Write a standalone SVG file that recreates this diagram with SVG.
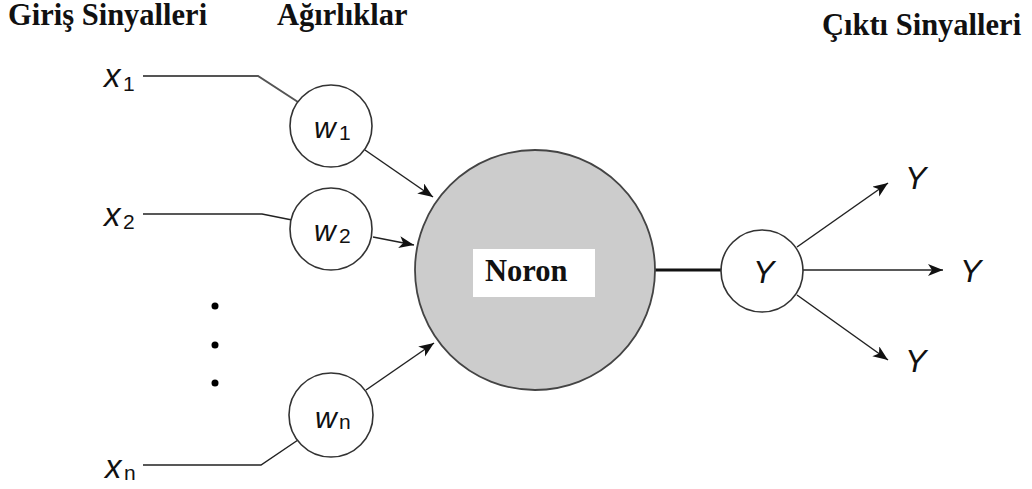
<svg xmlns="http://www.w3.org/2000/svg" width="1032" height="489" viewBox="0 0 1032 489">
<style>
.title{font-family:"Liberation Serif",serif;font-weight:bold;font-size:30.5px;fill:#111}
.var{font-family:"Liberation Sans",sans-serif;font-style:italic;font-size:33px;fill:#111}
.wv{font-family:"Liberation Sans",sans-serif;font-style:italic;font-size:30px;fill:#111}
.yv{font-family:"Liberation Sans",sans-serif;font-style:italic;font-size:32px;fill:#111}
.sub{font-family:"Liberation Sans",sans-serif;font-style:normal;font-size:21px}
.wc{fill:#fff;stroke:#333;stroke-width:1.6}
.ln{fill:none;stroke:#222;stroke-width:1.5}
.arr{fill:none;stroke:#222;stroke-width:1.5;marker-end:url(#ah)}
</style>
<defs>
<marker id="ah" markerUnits="userSpaceOnUse" markerWidth="18" markerHeight="14" refX="15" refY="6" orient="auto">
<path d="M0,0 L15,6 L0,12 L4,6 z" fill="#111"/>
</marker>
</defs>
<rect width="1032" height="489" fill="#fff"/>
<g id="titles">
<text class="title" x="8" y="25">Giriş Sinyalleri</text>
<text class="title" x="277" y="25">Ağırlıklar</text>
<text class="title" x="822" y="35">Çıktı Sinyalleri</text>
</g>
<g id="connectors">
<polyline class="ln" points="143,76 258,76 298,102" style="stroke:#555;stroke-width:2"/>
<polyline class="ln" points="143,214 262,214 292,220"/>
<polyline class="ln" points="143,465 261,465 298,440"/>
<line class="arr" x1="365" y1="150" x2="433" y2="197"/>
<line class="arr" x1="373" y1="237" x2="414" y2="245"/>
<line class="arr" x1="366" y1="390" x2="434" y2="343"/>
<line x1="655" y1="270" x2="722" y2="270" stroke="#111" stroke-width="3"/>
<line class="arr" x1="797" y1="247" x2="888" y2="183"/>
<line class="arr" x1="803" y1="270" x2="943" y2="270"/>
<line class="arr" x1="797" y1="295" x2="888" y2="360"/>
</g>
<g id="inputs">
<text class="var" x="104" y="87">x<tspan class="sub" x="123" dy="4">1</tspan></text>
<text class="var" x="104" y="226">x<tspan class="sub" x="123" dy="3">2</tspan></text>
<text class="var" x="105" y="478">x<tspan class="sub" x="124" dy="2">n</tspan></text>
<circle cx="215" cy="306" r="3.5" fill="#000"/>
<circle cx="215" cy="345" r="3.5" fill="#000"/>
<circle cx="215" cy="383" r="3.5" fill="#000"/>
</g>
<g id="w1"><circle class="wc" cx="331" cy="126" r="41"/><text class="wv" x="314" y="138">w<tspan class="sub" x="339" dy="2">1</tspan></text></g>
<g id="w2"><circle class="wc" cx="331" cy="229" r="41"/><text class="wv" x="314" y="241">w<tspan class="sub" x="339" dy="2">2</tspan></text></g>
<g id="wn"><circle class="wc" cx="331" cy="415" r="42"/><text class="wv" x="315" y="428">w<tspan class="sub" x="339" dy="1">n</tspan></text></g>
<g id="neuron">
<circle cx="535" cy="270" r="120" fill="#cccccc" stroke="#444" stroke-width="1.8"/>
<rect x="473" y="249" width="122" height="48" fill="#fff"/>
<text class="title" x="485" y="281">Noron</text>
</g>
<g id="y">
<circle class="wc" cx="762" cy="271" r="41"/>
<text class="yv" x="753" y="283">Y</text>
</g>
<g id="outputs">
<text class="yv" x="905" y="189">Y</text>
<text class="yv" x="960" y="282">Y</text>
<text class="yv" x="905" y="372">Y</text>
</g>
</svg>
